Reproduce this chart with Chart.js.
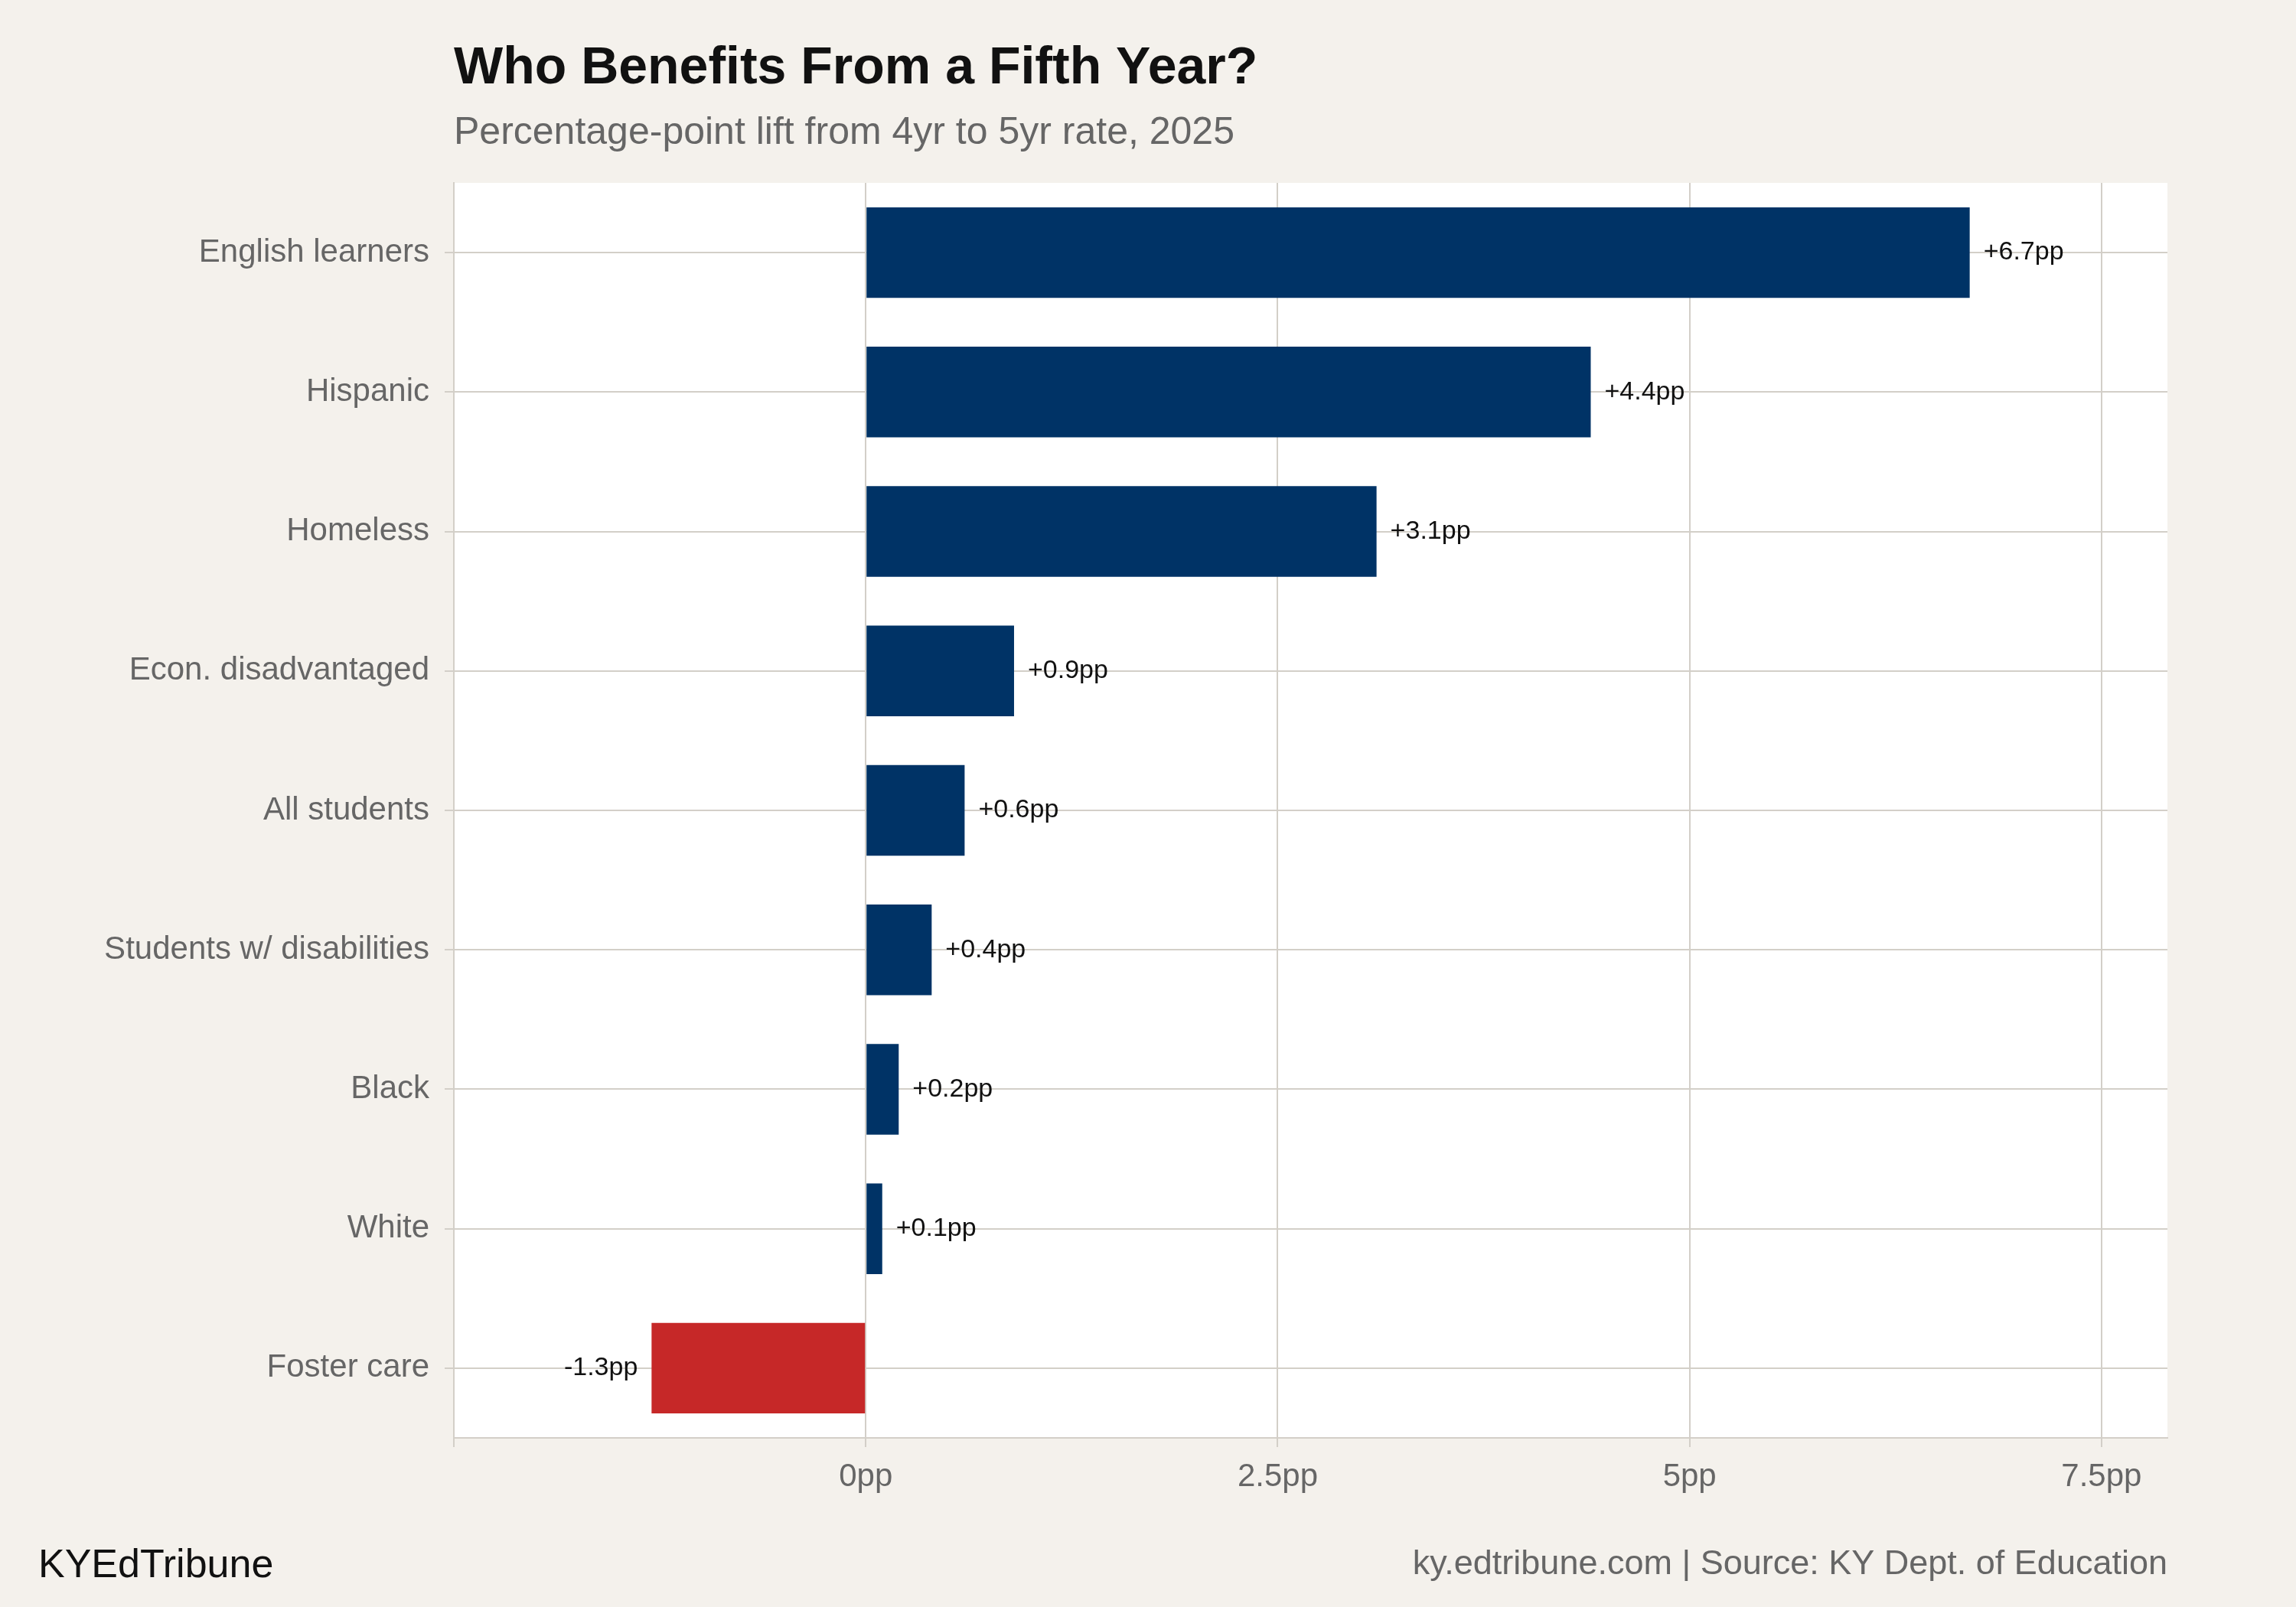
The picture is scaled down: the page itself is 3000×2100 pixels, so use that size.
<!DOCTYPE html>
<html>
<head>
<meta charset="utf-8">
<script src="https://cdn.jsdelivr.net/npm/chart.js@4"></script>
<style>
  html, body { margin: 0; padding: 0; background: #f4f1ec; }
  #wrap { width: 3000px; height: 2100px; }
</style>
</head>
<body>
<div id="wrap"><canvas id="grafico" width="3000" height="2100"></canvas></div>
<script>
const categorias = ['English learners', 'Hispanic', 'Homeless', 'Econ. disadvantaged', 'All students',
    'Students w/ disabilities', 'Black', 'White', 'Foster care'];
const valores = [6.7, 4.4, 3.1, 0.9, 0.6, 0.4, 0.2, 0.1, -1.3];
const ticksMostrados = [0, 2.5, 5, 7.5];

const FONTE = '"Liberation Sans", Arial, sans-serif';
const AZUL = '#003366';
const VERMELHO = '#c62828';
const GRADE = '#d3cfc8';

const fundoPlot = {
    id: 'fundoPlot',
    beforeDraw(chart) {
        const { ctx, chartArea: a } = chart;
        ctx.save();
        ctx.fillStyle = '#f4f1ec';
        ctx.fillRect(0, 0, chart.width, chart.height);
        ctx.fillStyle = '#ffffff';
        ctx.fillRect(a.left, a.top, a.right - a.left, a.bottom - a.top);
        ctx.restore();
    }
};

const textos = {
    id: 'textos',
    afterDraw(chart) {
        const { ctx, chartArea: a } = chart;
        ctx.save();
        ctx.textBaseline = 'middle';
        ctx.textAlign = 'left';
        ctx.fillStyle = '#111111';
        ctx.font = 'bold 68px ' + FONTE;
        ctx.fillText('Who Benefits From a Fifth Year?', a.left, 90);
        ctx.fillStyle = '#666666';
        ctx.font = '50px ' + FONTE;
        ctx.fillText('Percentage-point lift from 4yr to 5yr rate, 2025', a.left, 174);

        ctx.fillStyle = '#111111';
        ctx.font = '52px ' + FONTE;
        ctx.fillText('KYEdTribune', 50, 2047);
        ctx.textAlign = 'right';
        ctx.fillStyle = '#666666';
        ctx.font = '45px ' + FONTE;
        ctx.fillText('ky.edtribune.com | Source: KY Dept. of Education', a.right, 2045);

        // rótulos das barras
        const meta = chart.getDatasetMeta(0);
        ctx.font = '34px ' + FONTE;
        ctx.fillStyle = '#111111';
        meta.data.forEach((barra, i) => {
            const v = valores[i];
            const txt = (v > 0 ? '+' : '') + v.toFixed(1) + 'pp';
            if (v >= 0) {
                ctx.textAlign = 'left';
                ctx.fillText(txt, barra.x + 18, barra.y);
            } else {
                ctx.textAlign = 'right';
                ctx.fillText(txt, barra.x - 18, barra.y);
            }
        });
        ctx.restore();
    }
};

new Chart(document.getElementById('grafico').getContext('2d'), {
    type: 'bar',
    data: {
        labels: categorias,
        datasets: [{
            data: valores,
            backgroundColor: valores.map(v => v < 0 ? VERMELHO : AZUL),
            borderWidth: 0,
            barPercentage: 0.65,
            categoryPercentage: 1
        }]
    },
    options: {
        indexAxis: 'y',
        responsive: false,
        animation: false,
        devicePixelRatio: 1,
        layout: { padding: { top: 239, right: 168, bottom: 121, left: 0 } },
        plugins: { legend: { display: false }, tooltip: { enabled: false } },
        scales: {
            x: {
                min: -2.5,
                max: 7.9,
                afterBuildTicks(axis) { axis.ticks = [-2.5, 0, 2.5, 5, 7.5].map(v => ({ value: v })); },
                afterFit(axis) { axis.height = 100; },
                grid: { color: GRADE, lineWidth: 2, tickLength: 12, tickColor: GRADE },
                border: { color: GRADE, width: 2 },
                ticks: {
                    padding: 14,
                    color: '#666666',
                    font: { family: FONTE, size: 42 },
                    callback: v => ticksMostrados.includes(v) ? v + 'pp' : ''
                }
            },
            y: {
                afterFit(axis) { axis.width = 593; },
                grid: { color: GRADE, lineWidth: 2, offset: false, tickLength: 12, tickColor: GRADE },
                border: { color: GRADE, width: 2 },
                ticks: {
                    padding: 20,
                    color: '#666666',
                    font: { family: FONTE, size: 42 }
                }
            }
        }
    },
    plugins: [fundoPlot, textos]
});
</script>
</body>
</html>
